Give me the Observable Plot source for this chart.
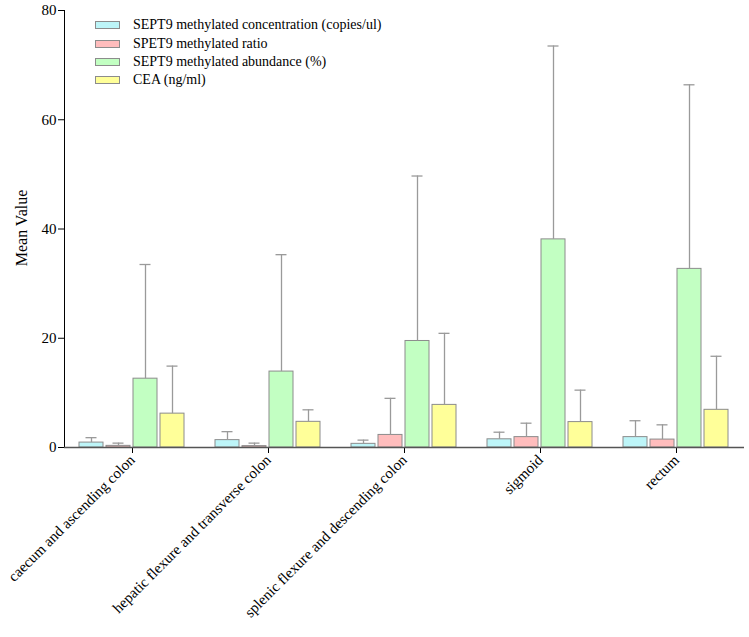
<!DOCTYPE html>
<html><head><meta charset="utf-8">
<script src="https://cdn.jsdelivr.net/npm/d3@7"></script>
<script src="https://cdn.jsdelivr.net/npm/@observablehq/plot@0.6"></script>
<style>
body{margin:0;background:#fff;}
#wrap{position:relative;width:749px;height:637px;font-family:"Liberation Serif","DejaVu Serif","Noto Serif",Times,serif;}
#legend{position:absolute;left:95px;top:16px;font-size:14px;color:#000;}
.row{display:flex;align-items:center;height:18.4px;white-space:nowrap;}
.sw{width:23px;height:6px;border:1px solid #8c8c8c;margin-right:13px;}
#ylab{position:absolute;left:22px;top:228px;transform:translate(-50%,-50%) rotate(-90deg);font-size:16px;white-space:nowrap;color:#000;}
svg text{font-family:"Liberation Serif","DejaVu Serif","Noto Serif",Times,serif;}
</style></head><body><div id="wrap"><div id="legend"></div><div id="ylab">Mean Value</div></div>
<script>
const groups = ["caecum and ascending colon","hepatic flexure and transverse colon","splenic flexure and descending colon","sigmoid","rectum"];
const series = ["SEPT9 methylated concentration (copies/ul)","SPET9 methylated ratio","SEPT9 methylated abundance (%)","CEA (ng/ml)"];
const colors = ["#bdf5f8","#ffbdbd","#c2ffc2","#ffff99"];
const yTicks = [0,20,40,60,80];

const meanConc = [0.9,1.35,0.67,1.5,1.9];
const sdConc   = [0.9,1.55,0.68,1.3,3.0];
const meanRatio = [0.3,0.25,2.3,1.9,1.45];
const sdRatio   = [0.5,0.55,6.7,2.55,2.7];
const meanAbund = [12.6,13.9,19.5,38.1,32.7];
const sdAbund   = [20.9,21.4,30.2,35.4,33.7];
const meanCEA = [6.2,4.7,7.8,4.65,6.9];
const sdCEA   = [8.7,2.2,13.1,5.85,9.8];

const means = [meanConc, meanRatio, meanAbund, meanCEA];
const sds = [sdConc, sdRatio, sdAbund, sdCEA];
const data = [];
groups.forEach((g, gi) => series.forEach((s, si) => {
  data.push({group: g, series: s, mean: means[si][gi], top: means[si][gi] + sds[si][gi]});
}));

const chart = Plot.plot({
  width: 749, height: 637,
  marginLeft: 63, marginRight: 5, marginTop: 10, marginBottom: 190,
  style: {fontFamily: "'Liberation Serif', 'DejaVu Serif', serif", fontSize: "15px", background: "white", color: "#000", overflow: "visible"},
  fx: {domain: groups, padding: 0, axis: "bottom", tickRotate: -45, tickSize: 6, tickPadding: 4, label: null},
  x: {domain: series, paddingInner: 0.1, paddingOuter: 0.5, axis: null},
  y: {domain: [0, 80], ticks: yTicks, tickSize: 6, tickPadding: 2, line: true, label: null},
  color: {domain: series, range: colors},
  marks: [
    Plot.barY(data, {fx: "group", x: "series", y: "mean", fill: "series", stroke: "#8c8c8c", strokeWidth: 1}),
    Plot.ruleX(data, {fx: "group", x: "series", y1: "mean", y2: "top", stroke: "#9a9a9a", strokeWidth: 1.3}),
    Plot.tickY(data, {fx: "group", x: "series", y: "top", stroke: "#9a9a9a", strokeWidth: 1.3, insetLeft: 6.5, insetRight: 6.5}),
    Plot.ruleY([0], {stroke: "#555", strokeWidth: 1.5})
  ]
});
const wrap = document.getElementById("wrap");
wrap.insertBefore(chart, wrap.firstChild);
chart.style.position = "absolute"; chart.style.left = "0"; chart.style.top = "0";
const leg = document.getElementById("legend");
series.forEach((s, i) => {
  const r = document.createElement("div"); r.className = "row";
  const sw = document.createElement("div"); sw.className = "sw"; sw.style.background = colors[i];
  const t = document.createElement("span"); t.textContent = s;
  r.appendChild(sw); r.appendChild(t); leg.appendChild(r);
});
</script></body></html>
